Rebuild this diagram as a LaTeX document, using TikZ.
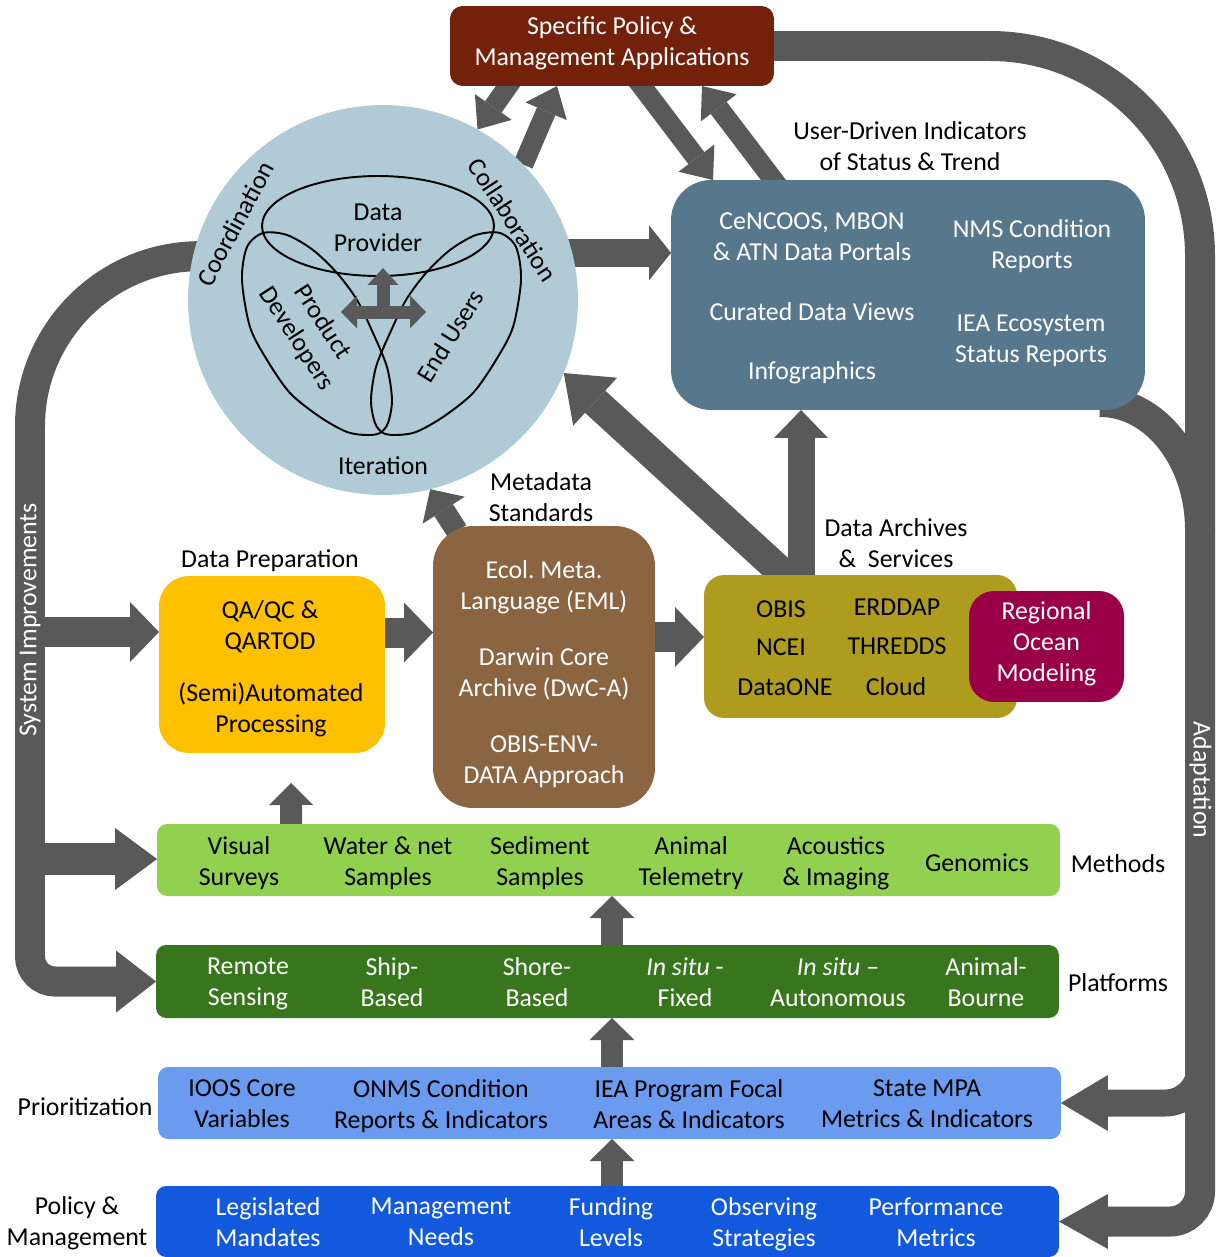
\documentclass[tikz,border=0pt]{standalone}
\usepackage{fontspec}
\setmainfont{Carlito}
\usetikzlibrary{arrows.meta,calc}
\frenchspacing

\definecolor{arrgray}{HTML}{595959}
\definecolor{spmacol}{HTML}{74210B}
\definecolor{circcol}{HTML}{B1CBD6}
\definecolor{indcol}{HTML}{56778C}
\definecolor{prepcol}{HTML}{FFC000}
\definecolor{metacol}{HTML}{8B6441}
\definecolor{archcol}{HTML}{AE9C1F}
\definecolor{romscol}{HTML}{9A0048}
\definecolor{methcol}{HTML}{92D050}
\definecolor{platcol}{HTML}{38761D}
\definecolor{priocol}{HTML}{6A9BEF}
\definecolor{polcol}{HTML}{1259DD}

\pgfdeclarelayer{bg}
\pgfsetlayers{bg,main}

\tikzset{
    box/.style={rounded corners=#1, inner sep=0pt, outer sep=0pt},
    lines/.style={yshift=-0.09cm},
    grayarrow/.style args={#1/#2/#3}{draw=arrgray, line width=#1,
        -{Triangle[width=#2, length=#3, line width=0pt]}},
    grayband/.style={draw=arrgray, line width=#1},
}

\begin{document}
\begin{tikzpicture}[x=0.02cm, y=-0.02cm,
        every node/.style={font=\fontsize{14.7}{17.6}\selectfont, align=center, inner sep=0pt,
            execute at begin node=\rule{0pt}{17pt}, execute at end node=\strut}]
    \useasboundingbox (0,0) rectangle (1225,1257);

    % boxes
    \node[box=0.25cm, fill=spmacol, text=white, minimum width=6.48cm, minimum height=1.6cm] (spma) at (612,46) {Specific Policy \&\\Management Applications};
    \node[circle, fill=circcol, minimum size=7.8cm, outer sep=0pt] (circ) at (383,300) {};
    \node[box=0.8cm, fill=indcol, minimum width=9.48cm, minimum height=4.6cm] (ind) at (908,295) {};
    \node[box=0.6cm, fill=prepcol, minimum width=4.52cm, minimum height=3.54cm] (prep) at (272,664.5) {};
    \node[box=0.8cm, fill=metacol, minimum width=4.44cm, minimum height=5.64cm] (meta) at (544,667) {};
    \node[box=0.4cm, fill=archcol, minimum width=6.26cm, minimum height=2.86cm] (arch) at (860.5,646.5) {};
    \node[box=0.5cm, fill=romscol, text=white, minimum width=3.1cm, minimum height=2.22cm] (roms) at (1046.5,646.5) {Regional\\Ocean\\Modeling};
    \node[box=0.2cm, fill=methcol, minimum width=18.06cm, minimum height=1.44cm] (meth) at (608.5,860) {};
    \node[box=0.2cm, fill=platcol, minimum width=18.06cm, minimum height=1.46cm] (plat) at (607.5,981.5) {};
    \node[box=0.2cm, fill=priocol, minimum width=18.06cm, minimum height=1.44cm] (prio) at (609.5,1103) {};
    \node[box=0.2cm, fill=polcol, minimum width=18.06cm, minimum height=1.42cm] (pol) at (607.5,1221.5) {};

    % free ends of the arrows
    \coordinate (siPrep) at (30,632);
    \coordinate (siMeth) at (30,859);
    \coordinate (adPrio) at (1200,1060);
    \coordinate (adJoin) at (1200,530);
    \coordinate (pm) at ($(prep.east)+(-5,-32)$);
    \coordinate (ma) at ($(meta.east)+(-5,-30)$);
    \coordinate (au) at ($(arch.north west)+(97,5)$);
    \coordinate (pu) at ($(plat.north)+(4.5,5)$);
    \coordinate (rpu) at ($(prio.north)+(2.5,5)$);
    \coordinate (lpu) at ($(pol.north)+(4.5,5)$);
    \coordinate (hub) at (383,312);

    \begin{pgfonlayer}{bg}
        % system improvements
        \draw[grayband=0.6cm, rounded corners=3.4cm] (circ.center |- circ.167) -| (siMeth);
        \draw[grayarrow=0.6cm/1.2cm/0.58cm] (siPrep) -- (siPrep -| prep.west);
        \draw[grayarrow=0.64cm/1.24cm/0.84cm] (siMeth) -- (siMeth -| meth.west);
        \draw[grayarrow=0.6cm/1.24cm/0.8cm, rounded corners=0.5cm] (siMeth) |- (plat.west);

        % adaptation
        \draw[grayband=0.6cm, rounded corners=4.2cm] (spma.center) -| (adPrio);
        \draw[grayband=0.6cm] ($(ind.south east)+(-45,-8)$) .. controls +(55,0) and +(0,-71) .. (adJoin);
        \draw[grayarrow=0.54cm/1.12cm/0.94cm, rounded corners=0.7cm] (adPrio) |- (prio.east);
        \draw[grayarrow=0.6cm/1.1cm/0.98cm, rounded corners=0.6cm] (adPrio) |- (pol.east);

        % top
        \draw[grayarrow=0.4cm/0.9cm/0.55cm] ($(spma.south west)+(65,-10)$) -- (circ.61);
        \draw[grayarrow=0.4cm/0.9cm/0.55cm] (circ.44) -- ($(spma.south west)+(107,0)$);
        \draw[grayarrow=0.4cm/0.9cm/0.55cm] ($(spma.south west)+(184,-10)$) -- ($(ind.north west)+(42,0)$);
        \draw[grayarrow=0.4cm/0.9cm/0.55cm] ($(ind.north west)+(110,10)$) -- ($(spma.south west)+(252,0)$);

        \draw[grayarrow=0.56cm/1.1cm/0.44cm] (circ.center |- circ.14) -- (circ.14 -| ind.west);
        \draw[grayarrow=0.6cm/1.3cm/0.85cm] ($(arch.north west)+(86,5)$) -- (circ.-22);
        \draw[grayarrow=0.54cm/1.08cm/0.56cm] (au) -- (au |- ind.south);
        \draw[grayarrow=0.44cm/1.0cm/0.5cm] ($(meta.north west)+(24,5)$) -- (circ.-76);

        \draw[grayarrow=0.6cm/1.2cm/0.58cm] (pm) -- (pm -| meta.west);
        \draw[grayarrow=0.6cm/1.2cm/0.58cm] (ma) -- (ma -| arch.west);

        % bottom
        \draw[grayarrow=0.44cm/0.88cm/0.44cm] ($(meth.north west)+(134,5)$) -- ($(prep.south)+(19,30)$);
        \draw[grayarrow=0.44cm/0.9cm/0.44cm] (pu) -- (pu |- meth.south);
        \draw[grayarrow=0.44cm/0.9cm/0.44cm] (rpu) -- (rpu |- plat.south);
        \draw[grayarrow=0.44cm/0.9cm/0.44cm] (lpu) -- (lpu |- prio.south);
    \end{pgfonlayer}

    % circle inside
    \draw[line width=1.1pt] (378,226) ellipse [x radius=2.32cm, y radius=1cm];
    \draw[line width=1.1pt] plot[smooth cycle] coordinates {(242,280) (247,247) (263,233) (287,235) (313,250) (337,273) (357,300) (373,333) (387,367) (392,400) (388,423) (380,433) (367,435) (347,432) (320,417) (290,393) (267,360) (250,327)};
    \draw[line width=1.1pt] plot[smooth cycle] coordinates {(521,280) (516,247) (500,233) (476,235) (450,250) (426,273) (406,300) (390,333) (376,367) (371,400) (375,423) (383,433) (396,435) (416,432) (443,417) (473,393) (496,360) (513,327)};
    \draw[draw=arrgray, line width=0.26cm, {Triangle[width=0.66cm,length=0.32cm,line width=0pt]}-{Triangle[width=0.66cm,length=0.32cm,line width=0pt]}] ($(hub)+(-42,0)$) -- ($(hub)+(43,0)$);
    \draw[draw=arrgray, line width=0.26cm, -{Triangle[width=0.62cm,length=0.34cm,line width=0pt]}] ($(hub)+(0,6)$) -- ($(hub)+(0,-44)$);

    \node[rotate=62] at (234,223) {Coordination};
    \node[rotate=-57] at (514,219) {Collaboration};
    \node at (383,464) {Iteration};
    \node[lines] at (378,228) {Data\\Provider};
    \node[rotate=-57] at (307,332) {Product\\Developers};
    \node[rotate=58] at (449,335) {End Users};

    % labels
    \node[lines] at (910,146) {User-Driven Indicators\\of Status \& Trend};
    \node[lines] at (541,497) {Metadata\\Standards};
    \node[lines] at (896,543) {Data Archives\\\&~ Services};
    \node at (270,557) {Data Preparation};
    \node at (1118,862) {Methods};
    \node at (1118,981) {Platforms};
    \node at (85,1105) {Prioritization};
    \node[lines] at (77,1221) {Policy \&\\Management};
    \node[text=white, rotate=90] at (26,620) {System Improvements};
    \node[text=white, rotate=-90] at (1204,780) {Adaptation};

    % indicators
    \node[lines, text=white] at (812,237) {CeNCOOS, MBON\\\& ATN Data Portals};
    \node[text=white] at (812,310) {Curated Data Views};
    \node[text=white] at (812,369) {Infographics};
    \node[lines, text=white] at (1032,244) {NMS Condition\\Reports};
    \node[lines, text=white] at (1031,339) {IEA Ecosystem\\Status Reports};

    % preparation and metadata
    \node[lines] at (270,625) {QA/QC \&\\QARTOD};
    \node[lines] at (271,708) {(Semi)Automated\\Processing};
    \node[lines, text=white] at (544,585) {Ecol. Meta.\\Language (EML)};
    \node[lines, text=white] at (544,672) {Darwin Core\\Archive (DwC-A)};
    \node[lines, text=white] at (544,760) {OBIS-ENV-\\DATA Approach};

    % archives
    \node at (781,607) {OBIS};
    \node at (781,645) {NCEI};
    \node at (785,685) {DataONE};
    \node at (897,605) {ERDDAP};
    \node at (897,644) {THREDDS};
    \node at (896,685) {Cloud};

    % methods
    \node[lines] at (239,861) {Visual\\Surveys};
    \node[lines] at (388,861) {Water \& net\\Samples};
    \node[lines] at (540,861) {Sediment\\Samples};
    \node[lines] at (691,861) {Animal\\Telemetry};
    \node[lines] at (836,861) {Acoustics\\\& Imaging};
    \node at (977,861) {Genomics};

    % platforms
    \node[lines, text=white] at (248,982) {Remote\\Sensing};
    \node[lines, text=white] at (392,982) {Ship-\\Based};
    \node[lines, text=white] at (537,982) {Shore-\\Based};
    \node[lines, text=white] at (685,982) {\textit{In situ} -\\Fixed};
    \node[lines, text=white] at (838,982) {\textit{In situ} --\\Autonomous};
    \node[lines, text=white] at (986,982) {Animal-\\Bourne};

    % prioritization
    \node[lines] at (242,1104) {IOOS Core\\Variables};
    \node[lines] at (441,1104) {ONMS Condition\\Reports \& Indicators};
    \node[lines] at (689,1104) {IEA Program Focal\\Areas \& Indicators};
    \node[lines] at (927,1104) {State MPA\\Metrics \& Indicators};

    % policy
    \node[lines, text=white] at (268,1222) {Legislated\\Mandates};
    \node[lines, text=white] at (441,1222) {Management\\Needs};
    \node[lines, text=white] at (611,1222) {Funding\\Levels};
    \node[lines, text=white] at (764,1222) {Observing\\Strategies};
    \node[lines, text=white] at (936,1222) {Performance\\Metrics};
\end{tikzpicture}
\end{document}
